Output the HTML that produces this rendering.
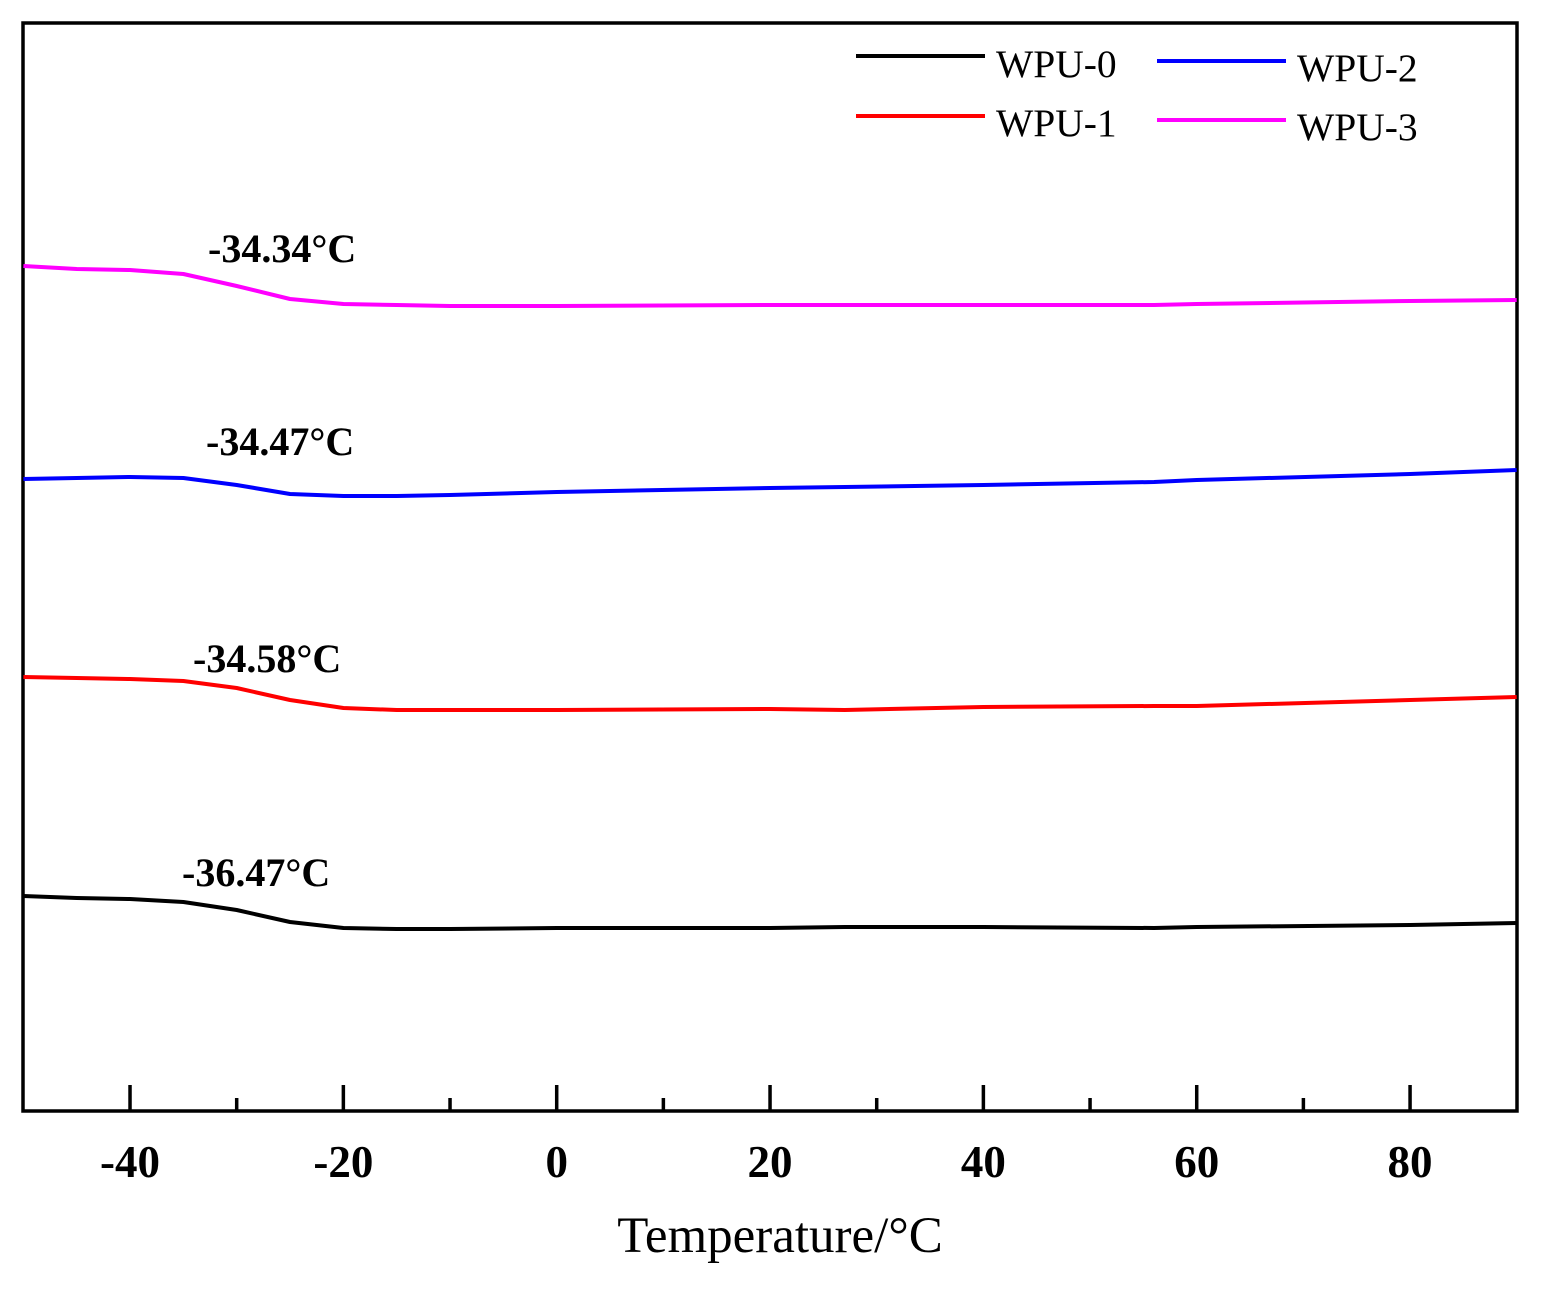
<!DOCTYPE html>
<html><head><meta charset="utf-8"><style>body{margin:0;background:#fff}svg{display:block}text{font-family:"Liberation Serif",serif}</style></head>
<body>
<svg id="chart" width="1541" height="1292">
<rect x="23" y="23" width="1494" height="1088" fill="none" stroke="#000" stroke-width="3.5"/>
<g id="ticks"></g><g id="series"></g>
<g font-size="39.5">
<line x1="856" y1="56" x2="985" y2="56" stroke="#000" stroke-width="4"/>
<text x="996" y="77">WPU-0</text>
<line x1="856" y1="116" x2="985" y2="116" stroke="#f00" stroke-width="4"/>
<text x="996" y="136">WPU-1</text>
<line x1="1157" y1="61" x2="1286" y2="61" stroke="#00f" stroke-width="4"/>
<text x="1297" y="81">WPU-2</text>
<line x1="1157" y1="120" x2="1286" y2="120" stroke="#f0f" stroke-width="4"/>
<text x="1297" y="140">WPU-3</text>
</g>
<g font-size="40" font-weight="bold">
<text x="208" y="262">-34.34°C</text>
<text x="206" y="455">-34.47°C</text>
<text x="193" y="672">-34.58°C</text>
<text x="182" y="886">-36.47°C</text>
</g>
<text x="780" y="1252" font-size="51" text-anchor="middle">Temperature/°C</text>
</svg>
<script>
const tickLabels=[-40,-20,0,20,40,60,80];
const minorTicks=[-30,-10,10,30,50,70];
const xs=[-50,-45,-40,-35,-30,-25,-20,-15,-10,0,20,27,40,56,60,80,90];
const wpu3=[845,842,841,837,825,812,807,806,805,805,806,806,806,806,807,810,811];
const wpu2=[632,633,634,633,626,617,615,615,616,619,623,624,626,629,631,637,641];
const wpu1=[434,433,432,430,423,411,403,401,401,401,402,401,404,405,405,411,414];
const wpu0=[215,213,212,209,201,189,183,182,182,183,183,184,184,183,184,186,188];
const X=t=>556.7+(t)*10.667, Y=v=>1111-v;
const ns="http://www.w3.org/2000/svg";
const tg=document.getElementById('ticks');
tickLabels.forEach(t=>{
 const l=document.createElementNS(ns,'line');
 l.setAttribute('x1',X(t));l.setAttribute('x2',X(t));l.setAttribute('y1',1085);l.setAttribute('y2',1111);
 l.setAttribute('stroke','#000');l.setAttribute('stroke-width',3.5);
 
 
 tg.appendChild(l);
 const tx=document.createElementNS(ns,'text');
 tx.setAttribute('x',X(t));tx.setAttribute('y',1177);tx.setAttribute('text-anchor','middle');
 tx.setAttribute('font-size','45');tx.setAttribute('font-weight','bold');tx.textContent=t;
 
 
 tg.appendChild(tx);
});
minorTicks.forEach(t=>{
 const l=document.createElementNS(ns,'line');
 l.setAttribute('x1',X(t));l.setAttribute('x2',X(t));l.setAttribute('y1',1098);l.setAttribute('y2',1111);
 l.setAttribute('stroke','#000');l.setAttribute('stroke-width',3.5);
 
 
 tg.appendChild(l);
});
const sg=document.getElementById('series');
[[wpu0,'#000','wpu-0'],[wpu1,'#f00','wpu-1'],[wpu2,'#00f','wpu-2'],[wpu3,'#f0f','wpu-3']].forEach(([d,c,n])=>{
 const p=document.createElementNS(ns,'path');
 p.setAttribute('d',d.map((v,i)=>(i?'L':'M')+X(xs[i]).toFixed(1)+','+Y(v)).join(''));
 p.setAttribute('fill','none');p.setAttribute('stroke',c);p.setAttribute('stroke-width',4);p.setAttribute('stroke-linejoin','round');
 
 
 sg.appendChild(p);
});
</script>
</body></html>
